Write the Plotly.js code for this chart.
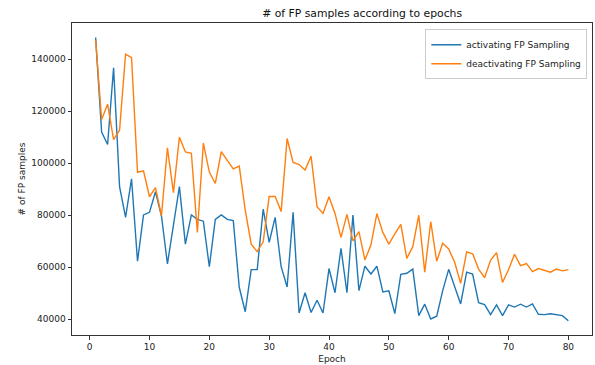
<!DOCTYPE html>
<html>
<head>
<meta charset="utf-8">
<script src="https://cdn.plot.ly/plotly-3.0.1.min.js"></script>
<style>
html,body{margin:0;padding:0;background:#fff;}
#chart{width:595px;height:365px;}
</style>
</head>
<body>
<div id="chart"></div>
<script>
const epochs = [1,2,3,4,5,6,7,8,9,10,11,12,13,14,15,16,17,18,19,20,
  21,22,23,24,25,26,27,28,29,30,31,32,33,34,35,36,37,38,39,40,
  41,42,43,44,45,46,47,48,49,50,51,52,53,54,55,56,57,58,59,60,
  61,62,63,64,65,66,67,68,69,70,71,72,73,74,75,76,77,78,79,80];

const activating = [148300,112000,107200,136700,91000,79200,94000,62300,80100,81100,
  89000,79700,61300,76200,91000,68900,80100,78400,77700,60200,
  78400,80100,78400,77900,52300,42900,59100,59100,82300,69600,
  79200,60200,52400,81100,42400,50200,42600,47300,42400,59500,
  50200,67300,50200,80100,51000,60400,57400,60400,50500,50900,
  42200,57300,57700,59300,41400,45800,40100,41200,51000,59200,
  52600,45900,58100,57400,46400,45600,41800,45500,41400,45500,
  44700,45800,44700,45900,41900,41800,42100,41800,41400,39400];

const deactivating = [147300,116800,122700,109100,112700,141900,140600,96500,97100,87100,
  90600,79800,105900,88700,110000,104300,103800,73400,107700,96600,
  92200,104400,101100,97800,98900,82000,68900,66000,69800,87200,
  87200,81400,109500,100300,99500,97400,102700,83300,80700,87100,
  80700,71500,80300,70100,73700,62800,68500,80600,73400,68900,
  72800,76500,63400,67900,80000,58100,77500,62300,69200,67000,
  61900,53800,65900,65200,59300,56000,62700,65600,54200,59000,
  65000,60600,61400,58300,59500,58800,58100,59300,58600,59100];

const seriesNames = ['activating FP Sampling', 'deactivating FP Sampling'];
const xTicks = [0,10,20,30,40,50,60,70,80];
const yTicks = [40000,60000,80000,100000,120000,140000];

const font = 'DejaVu Sans, sans-serif';
const axisColor = '#333';

const traces = [
  {x: epochs, y: activating, name: seriesNames[0], type: 'scatter', mode: 'lines',
   line: {color: '#1f77b4', width: 1.4}},
  {x: epochs, y: deactivating, name: seriesNames[1], type: 'scatter', mode: 'lines',
   line: {color: '#ff7f0e', width: 1.4}}
];

const layout = {
  width: 595, height: 365,
  margin: {l: 71.5, r: 2.5, t: 23, b: 30, pad: 0},
  paper_bgcolor: '#fff', plot_bgcolor: '#fff',
  font: {family: font, size: 9, color: '#222'},
  title: {text: '# of FP samples according to epochs', font: {family: font, size: 10.8, color: '#111'},
          x: 0.558, xref: 'paper', xanchor: 'center', y: 0.963, yref: 'container', yanchor: 'middle'},
  xaxis: {
    range: [-2.95, 83.95], tickvals: xTicks, ticktext: xTicks.map(String),
    showgrid: false, zeroline: false, showline: true, mirror: true,
    linecolor: axisColor, linewidth: 1, ticks: 'outside', ticklen: 3.5, tickwidth: 1, tickcolor: axisColor,
    tickfont: {family: font, size: 9, color: '#222'},
    title: {text: 'Epoch', font: {family: font, size: 9, color: '#222'}, standoff: 4}
  },
  yaxis: {
    range: [33950, 153900], tickvals: yTicks, ticktext: yTicks.map(String),
    showgrid: false, zeroline: false, showline: true, mirror: true,
    linecolor: axisColor, linewidth: 1, ticks: 'outside', ticklen: 3.5, tickwidth: 1, tickcolor: axisColor,
    tickfont: {family: font, size: 9, color: '#222'},
    title: {text: '# of FP samples', font: {family: font, size: 9, color: '#222'}, standoff: 4}
  },
  showlegend: true,
  legend: {
    x: 0.991, xanchor: 'right', y: 0.98, yanchor: 'top',
    bgcolor: 'rgba(255,255,255,0.85)', bordercolor: '#ccc', borderwidth: 1,
    font: {family: font, size: 9, color: '#222'},
    tracegroupgap: 0, itemwidth: 30
  }
};

Plotly.newPlot('chart', traces, layout, {staticPlot: true, displayModeBar: false});
</script>
</body>
</html>
